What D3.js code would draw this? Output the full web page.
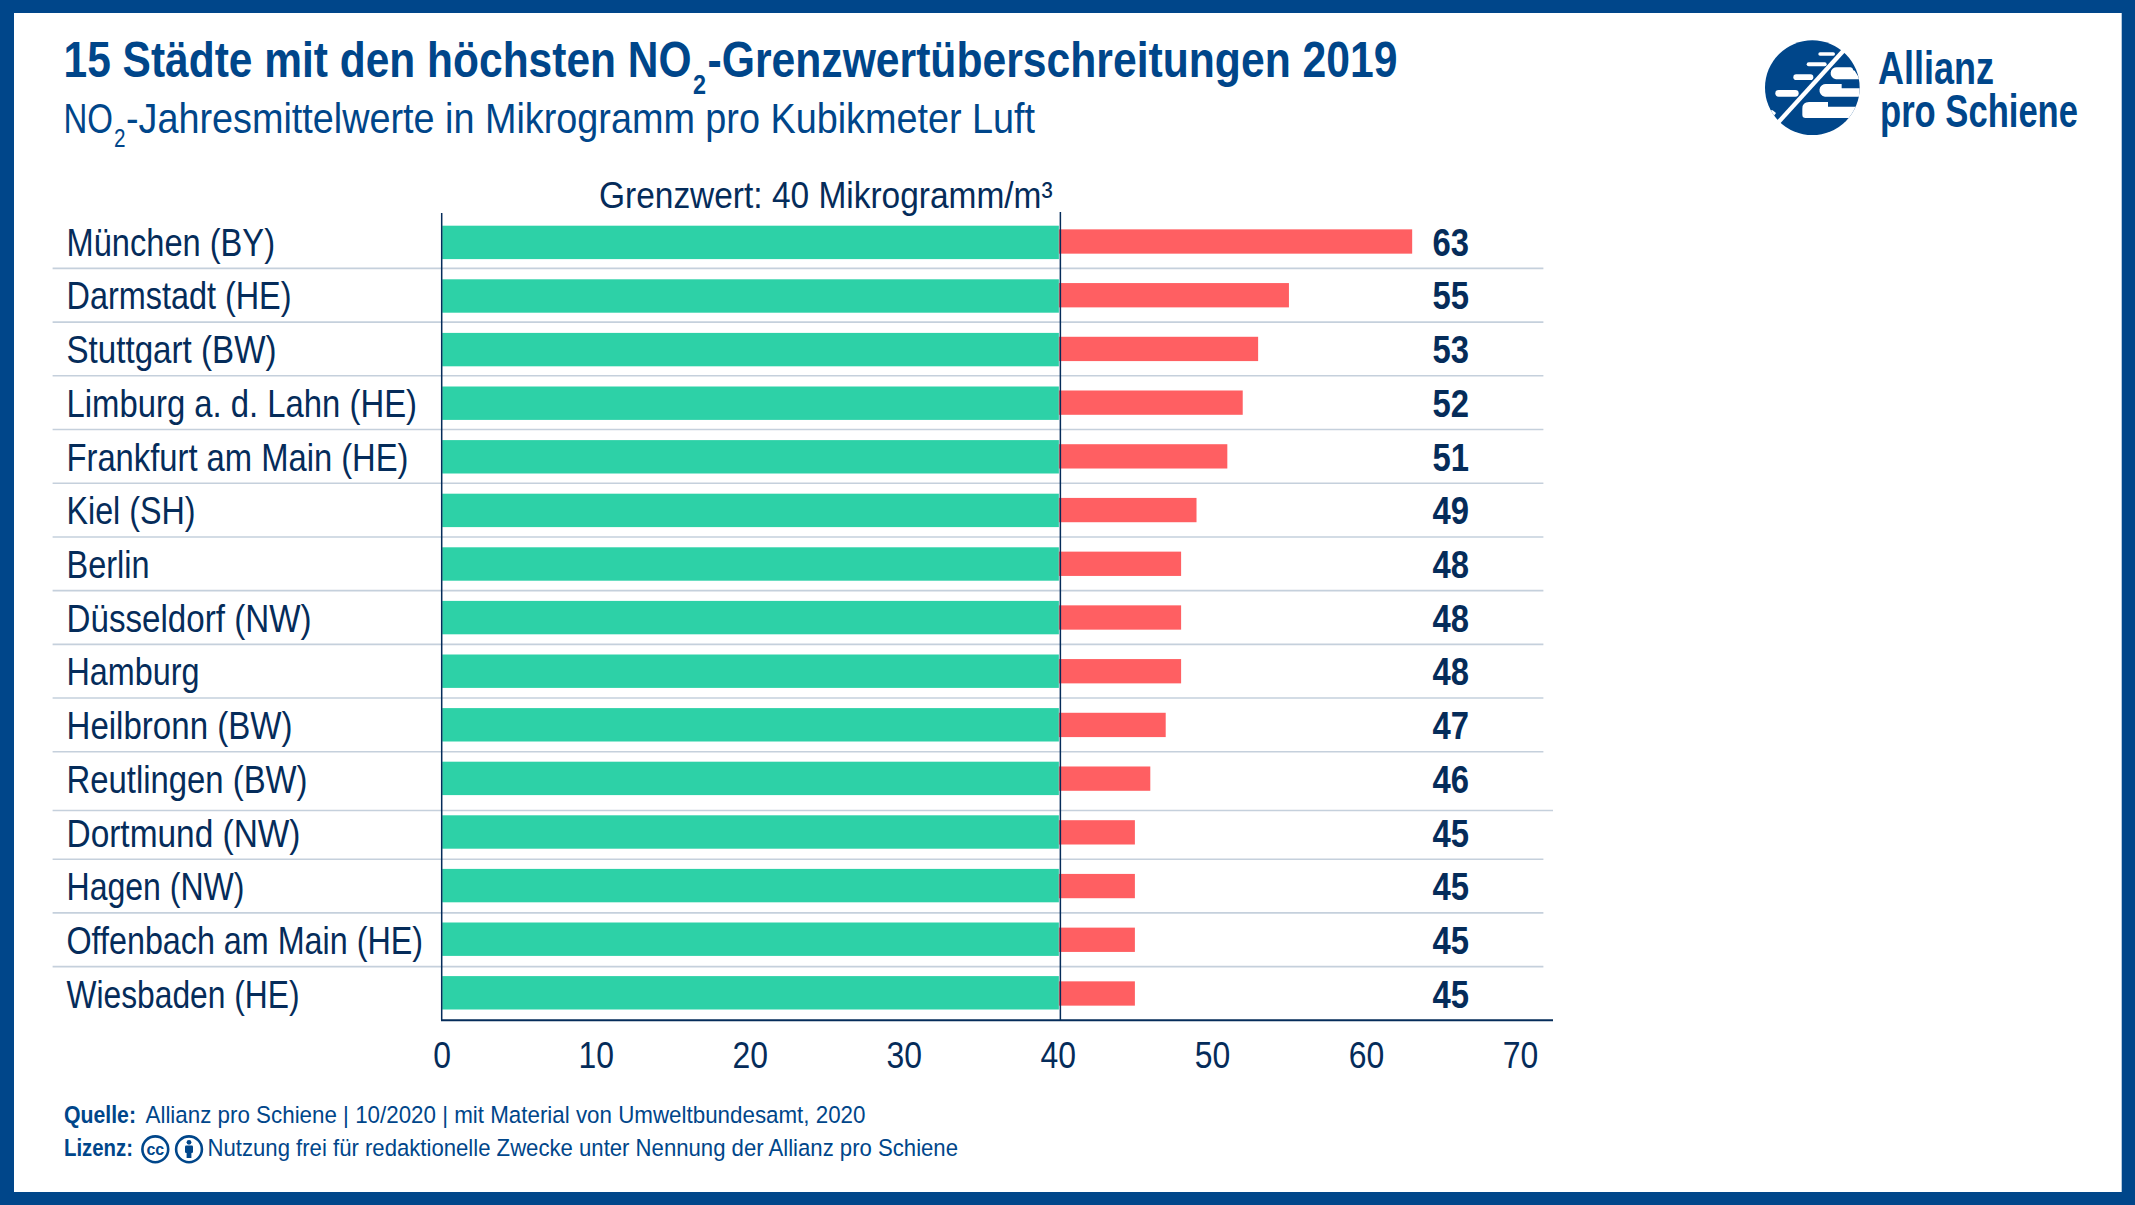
<!DOCTYPE html>
<html lang="de"><head><meta charset="utf-8">
<script src="https://cdn.jsdelivr.net/npm/d3@7"></script>
<style>
html,body{margin:0;padding:0;background:#fff}
svg{display:block}
text{font-family:"Liberation Sans Narrow","Liberation Sans",sans-serif}
</style></head><body>
<svg id="chart" width="2135" height="1205"></svg>
<script>
const cities = ["München (BY)","Darmstadt (HE)","Stuttgart (BW)","Limburg a. d. Lahn (HE)","Frankfurt am Main (HE)","Kiel (SH)","Berlin","Düsseldorf (NW)","Hamburg","Heilbronn (BW)","Reutlingen (BW)","Dortmund (NW)","Hagen (NW)","Offenbach am Main (HE)","Wiesbaden (HE)"];
const no2Values = [63,55,53,52,51,49,48,48,48,47,46,45,45,45,45];
const limitValue = 40;
const tickValues = [0,10,20,30,40,50,60,70];
const titleParts = ["15 Städte mit den höchsten NO","2","-Grenzwertüberschreitungen 2019"];
const subtitleParts = ["NO","2","-Jahresmittelwerte in Mikrogramm pro Kubikmeter Luft"];
const limitLabel = "Grenzwert: 40 Mikrogramm/m³";
const sourceLabel = "Quelle:", sourceText = "Allianz pro Schiene | 10/2020 | mit Material von Umweltbundesamt, 2020";
const licenseLabel = "Lizenz:", licenseText = "Nutzung frei für redaktionelle Zwecke unter Nennung der Allianz pro Schiene";

// Layout only: rendered label widths, used to condense the substitute font
const cityLabelFit = [208.5,225,210,350.5,342,129,83,245,133,226,241,234,178,356.5,233];

const BLUE="#00468a", NAVY="#052c5a", GREEN="#2dd1a7", RED="#ff5f62", RULE="#c5d0dc";
const svg=d3.select("#chart");
svg.append("rect").attr("width",2135).attr("height",1205).attr("fill",BLUE);
svg.append("rect").attr("x",14).attr("y",13).attr("width",2107.7).attr("height",1179).attr("fill","#fff");

const x=d3.scaleLinear().domain([0,70]).range([441.7,1520]);
const y=d3.scaleBand().domain(cities).range([214.65,1020.35]).padding(0);
const yGreen=d3.scaleBand().domain(cities).range([215.6,1019.6]).padding(0);
const cy=c=>y(c)+y.bandwidth()/2;
const cyG=c=>yGreen(c)+yGreen.bandwidth()/2;
const rows=cities.map((c,i)=>({c,v:no2Values[i],i,fit:cityLabelFit[i]}));

function fit(sel,w){sel.attr("textLength",w).attr("lengthAdjust","spacingAndGlyphs");return sel;}
function natural(str,size,weight){
  const t=svg.append("text").attr("font-size",size).attr("font-weight",weight).attr("opacity",0).text(str);
  const w=t.node().getComputedTextLength();t.remove();return w;
}
function label(g,str,px,py,size,weight,fill,w){
  const t=g.append("text").attr("x",px).attr("y",py).attr("font-size",size).attr("font-weight",weight).attr("fill",fill).text(str);
  if(w) fit(t,w);
  return t;
}

const head=svg.append("g");
label(head,titleParts[0],63.5,77,50,700,BLUE,628);
label(head,titleParts[1],693,94,28,700,BLUE,13);
label(head,titleParts[2],707.5,77,50,700,BLUE,690);
label(head,subtitleParts[0],63.5,132.7,43,400,BLUE,49.5);
label(head,subtitleParts[1],114,146.7,26,400,BLUE,11.5);
label(head,subtitleParts[2],126,132.7,43,400,BLUE,909);

label(svg,limitLabel,599,208.3,37.5,400,NAVY,453.6);

svg.append("g").selectAll("line").data(rows.slice(0,-1)).join("line")
  .attr("x1",52.6).attr("x2",d=>d.i===10?x(70)+33:x(70)+23.4)
  .attr("y1",d=>y(d.c)+y.bandwidth()+(d.i===10?5:0)).attr("y2",d=>y(d.c)+y.bandwidth()+(d.i===10?5:0))
  .attr("stroke",RULE).attr("stroke-width",1.6);

const greenH=33.4, redH=24.3;
svg.append("g").selectAll("rect").data(rows).join("rect")
  .attr("x",x(0)+0.5).attr("width",x(limitValue)-x(0)+0.5)
  .attr("y",d=>cyG(d.c)-greenH/2).attr("height",greenH).attr("fill",GREEN);
svg.append("g").selectAll("rect").data(rows).join("rect")
  .attr("x",x(limitValue)+1).attr("width",d=>x(d.v)-x(limitValue)-1)
  .attr("y",d=>cy(d.c)-redH/2).attr("height",redH).attr("fill",RED);

const lines=svg.append("g").attr("stroke",NAVY);
lines.append("line").attr("x1",x(0)).attr("x2",x(0)).attr("y1",213).attr("y2",1020).attr("stroke-width",1.5);
lines.append("line").attr("x1",x(limitValue)+2.5).attr("x2",x(limitValue)+2.5).attr("y1",212).attr("y2",1020).attr("stroke-width",1.5);
lines.append("line").attr("x1",x(0)-0.7).attr("x2",x(70)+33).attr("y1",1020.3).attr("y2",1020.3).attr("stroke-width",2);

svg.append("g").selectAll("text").data(rows).join("text")
  .attr("x",66.5).attr("y",d=>cy(d.c)+14.2).attr("font-size",39).attr("fill",NAVY).text(d=>d.c)
  .attr("textLength",d=>d.fit).attr("lengthAdjust","spacingAndGlyphs");

const valK=36.5/natural("45",39,700);
svg.append("g").selectAll("text").data(rows).join("text")
  .attr("x",1432.5).attr("y",d=>cy(d.c)+14.2).attr("font-size",39).attr("font-weight",700).attr("fill",NAVY).text(d=>d.v)
  .attr("textLength",d=>natural(String(d.v),39,700)*valK).attr("lengthAdjust","spacingAndGlyphs");

const axis=d3.axisBottom(x).tickValues(tickValues).tickSize(0).tickPadding(0).tickFormat(d3.format("d"));
const ag=svg.append("g").attr("transform","translate(0,1068.3)").call(axis);
ag.select(".domain").remove();
const tickK=35.5/natural("40",37.5,400);
ag.selectAll("text").attr("font-size",37.5).attr("fill",NAVY).attr("dy",0).attr("y",0)
  .attr("textLength",d=>natural(String(d),37.5,400)*tickK).attr("lengthAdjust","spacingAndGlyphs");

const foot=svg.append("g");
label(foot,sourceLabel,64,1123.3,24.5,700,BLUE,72);
label(foot,sourceText,145.5,1123.3,24.5,400,BLUE,720);
label(foot,licenseLabel,64,1156,24.5,700,BLUE,69);
label(foot,licenseText,207.5,1156,24.5,400,BLUE,750.5);
const cc=foot.append("g");
cc.append("circle").attr("cx",155.3).attr("cy",1149.3).attr("r",12.9).attr("fill","#fff").attr("stroke",BLUE).attr("stroke-width",2.6);
cc.append("text").attr("x",155.3).attr("y",1154.6).attr("text-anchor","middle").attr("font-size",16).attr("font-weight",700).attr("fill",BLUE).style("font-family","'Liberation Sans',sans-serif").text("cc");
cc.append("circle").attr("cx",189).attr("cy",1149.3).attr("r",12.9).attr("fill","#fff").attr("stroke",BLUE).attr("stroke-width",2.6);
cc.append("circle").attr("cx",189).attr("cy",1142.3).attr("r",2.4).attr("fill",BLUE);
cc.append("rect").attr("x",185).attr("y",1145.5).attr("width",8).attr("height",7.5).attr("rx",1.2).attr("fill",BLUE);
cc.append("rect").attr("x",186.6).attr("y",1150).attr("width",4.8).attr("height",8).attr("fill",BLUE);

const logo=svg.append("g").attr("transform","translate(1760,35) scale(0.3333)");
svg.append("defs").append("clipPath").attr("id","logoClip").append("circle").attr("cx",157).attr("cy",158).attr("r",142);
logo.append("circle").attr("cx",157).attr("cy",158).attr("r",142).attr("fill",BLUE);
const lw=logo.append("g").attr("clip-path","url(#logoClip)").attr("fill","#fff");
[[175,52,50,10],[140,82,60,12],[100,118,60,17],[46,165,70,20]].forEach(r=>
  lw.append("rect").attr("x",r[0]).attr("y",r[1]).attr("width",r[2]).attr("height",r[3]).attr("rx",r[3]/2));
lw.append("path").attr("d","M232,97 H272 Q278,97 280,106 L284,107 L300,133 H228 A18,18 0 0 1 232,97Z");
lw.append("path").attr("d","M200,147 H245 V160 H300 V185 H195 A19,19 0 0 1 200,147Z");
lw.append("path").attr("d","M147,201 H204 V215 H290 V249 H137 Q127,249 127,239 V221 Q127,201 147,201Z");
lw.append("path").attr("d","M0,226 H38 L48,234 L40,245 L0,245Z");
logo.append("line").attr("x1",255).attr("y1",42).attr("x2",55).attr("y2",262).attr("stroke","#fff").attr("stroke-width",13);
label(svg,"Allianz",1878,84,46,700,BLUE,116);
label(svg,"pro Schiene",1880,127,46,700,BLUE,198);
</script>
</body></html>
